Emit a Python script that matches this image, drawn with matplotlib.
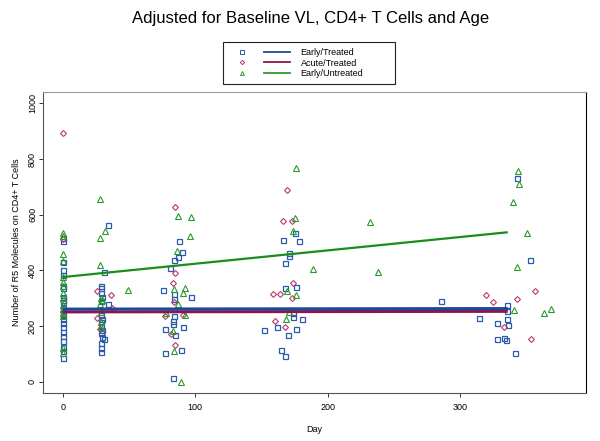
import numpy as np
import matplotlib
matplotlib.use("Agg")
import matplotlib.pyplot as plt
from matplotlib.lines import Line2D
from matplotlib.legend_handler import HandlerTuple

plt.rcParams['font.family'] = ['Liberation Sans', 'DejaVu Sans']

# Early/Treated (squares)
et_day = [0]*21 + [29, 29, 29, 30, 29, 29, 30, 29, 29, 30, 29, 30, 29, 29, 29, 31, 34, 34, 31,
          88, 90, 87, 84, 81, 76, 84, 97, 84, 84, 83, 83, 91, 77, 85, 89, 77, 83,
          175, 166, 178.5, 171, 171, 168, 176, 168, 173.5, 173.5, 181, 152, 162, 176, 170, 165, 168,
          285.5, 342.7, 352.7, 335.6, 335.6, 314.5, 335.6, 328, 336, 328, 333, 335, 341.6]
et_val = [515, 505, 430, 400, 385, 345, 335, 305, 295, 285, 265, 240, 225, 210, 195, 180, 165, 145, 125, 110, 85,
          345, 335, 320, 305, 290, 240, 225, 215, 200, 185, 175, 160, 140, 120, 107, 395, 563, 280, 153,
          507, 465, 447, 439, 408, 328, 316, 305, 298, 236, 218, 206, 198, 189, 167, 115, 105, 13,
          534, 510, 507, 463, 453, 425, 341, 336, 248, 233, 224, 186, 198, 191, 168, 115, 93,
          290, 731, 439, 277, 254, 228, 224, 212, 205, 153, 159, 150, 103]

# Acute/Treated (diamonds)
at_day = [0, 0, 0, 26, 36.5, 37.5, 25.5, 28, 85, 85, 83, 84, 77, 91, 82, 85,
          169, 166, 173, 174, 159, 164, 173, 160, 168, 319.5, 356.5, 342.7, 324.5, 333, 353.5]
at_val = [895, 512, 250, 325, 310, 266, 230, 188, 627, 391, 353, 286, 236, 240, 171, 132,
          689, 577, 577, 353, 316, 316, 302, 218, 198, 311, 326, 296, 288, 195, 155]

# Early/Untreated (triangles)
eu_day = [0]*15 + [28, 32, 28.5, 28, 49, 29, 30, 28, 29, 29, 29,
          87, 97, 96, 86, 92, 84, 91, 87, 78, 92, 83, 84, 89,
          176, 175, 174, 232, 189, 238, 169, 176, 171, 168.5,
          344, 344.6, 339.7, 350.7, 342.7, 341, 363, 369]
eu_val = [535, 525, 458, 435, 378, 360, 345, 320, 300, 275, 262, 248, 235, 122, 105,
          657, 540, 515, 419, 331, 300, 292, 280, 250, 215, 195,
          596, 592, 522, 468, 338, 332, 320, 278, 246, 240, 183, 111, 1,
          767, 588, 543, 573, 406, 394, 326, 311, 250, 224,
          758, 711, 644, 534, 413, 258, 246, 263]

# fitted lines
fit_day = [0, 336]
fit_et = [261, 263]
fit_at = [251, 253]
fit_eu = [376, 537]

blue_m, blue_l = '#2a5aa8', '#1a4a9a'
red_m, red_l = '#b8386e', '#8c1450'
green_m, green_l = '#2a9a2a', '#1a8c1a'

fig = plt.figure(figsize=(6, 4.41), dpi=100)
ax = fig.add_axes([0.071, 0.109, 0.906, 0.682])

ax.plot(et_day, et_val, 's', mfc='none', mec=blue_m, ms=3.6, mew=0.9)
ax.plot(at_day, at_val, 'D', mfc='none', mec=red_m, ms=3.0, mew=0.8)
ax.plot(eu_day, eu_val, '^', mfc='none', mec=green_m, ms=3.8, mew=0.8)

ax.plot(fit_day, fit_at, color=red_l, lw=2.2, solid_capstyle='butt')
ax.plot(fit_day, fit_et, color=blue_l, lw=2.2, solid_capstyle='butt')
ax.plot(fit_day, fit_eu, color=green_l, lw=1.6, solid_capstyle='butt')

ax.set_xlim(-15.2, 395.2)
ax.set_ylim(-40, 1040)
ax.set_xticks([0, 100, 200, 300])
ax.set_yticks([0, 200, 400, 600, 800, 1000])
ax.tick_params(labelsize=6.5, length=3, width=0.7, color='#333333')
ax.tick_params(axis='x', pad=4)
ax.tick_params(axis='y', pad=1)
for lab in ax.get_yticklabels():
    lab.set_rotation(90)
    lab.set_va('center')

for s in ax.spines.values():
    s.set_color('#555555')
    s.set_linewidth(0.8)
ax.spines['right'].set_color('black')
ax.spines['top'].set_color('#999999')

ax.set_xlabel('Day', fontsize=6.5)
ax.set_ylabel('Number of R5 Molecules on CD4+ T Cells', fontsize=6.5)
ax.xaxis.set_label_coords(0.5, -0.123)
ax.xaxis.label.set_va('center')
ax.yaxis.set_label_coords(-0.048, 0.5)
ax.yaxis.label.set_va('center')

fig.text(0.517, 0.959, 'Adjusted for Baseline VL, CD4+ T Cells and Age',
         ha='center', va='center', fontsize=12)

handles = [
    (Line2D([], [], marker='s', ls='none', mfc='none', mec=blue_m, ms=2.6, mew=0.7),
     Line2D([], [], color=blue_l, lw=1.3)),
    (Line2D([], [], marker='D', ls='none', mfc='none', mec=red_m, ms=2.2, mew=0.7),
     Line2D([], [], color=red_l, lw=1.3)),
    (Line2D([], [], marker='^', ls='none', mfc='none', mec=green_m, ms=2.8, mew=0.7),
     Line2D([], [], color=green_m, lw=1.3)),
]
labels = ['Early/Treated', 'Acute/Treated', 'Early/Untreated']
leg = fig.legend(handles, labels, loc='upper left', mode='expand', borderaxespad=0,
                 bbox_to_anchor=(0.3717, 0.807, 0.2867, 0.098),
                 handler_map={tuple: HandlerTuple(ndivide=None, pad=0.9)},
                 fontsize=6.5, handlelength=6.7, handletextpad=1.2, labelspacing=0.15,
                 borderpad=0.7, fancybox=False, framealpha=1, edgecolor='#222222')
leg.get_frame().set_linewidth(0.8)

fig.savefig('out.png', dpi=100)
